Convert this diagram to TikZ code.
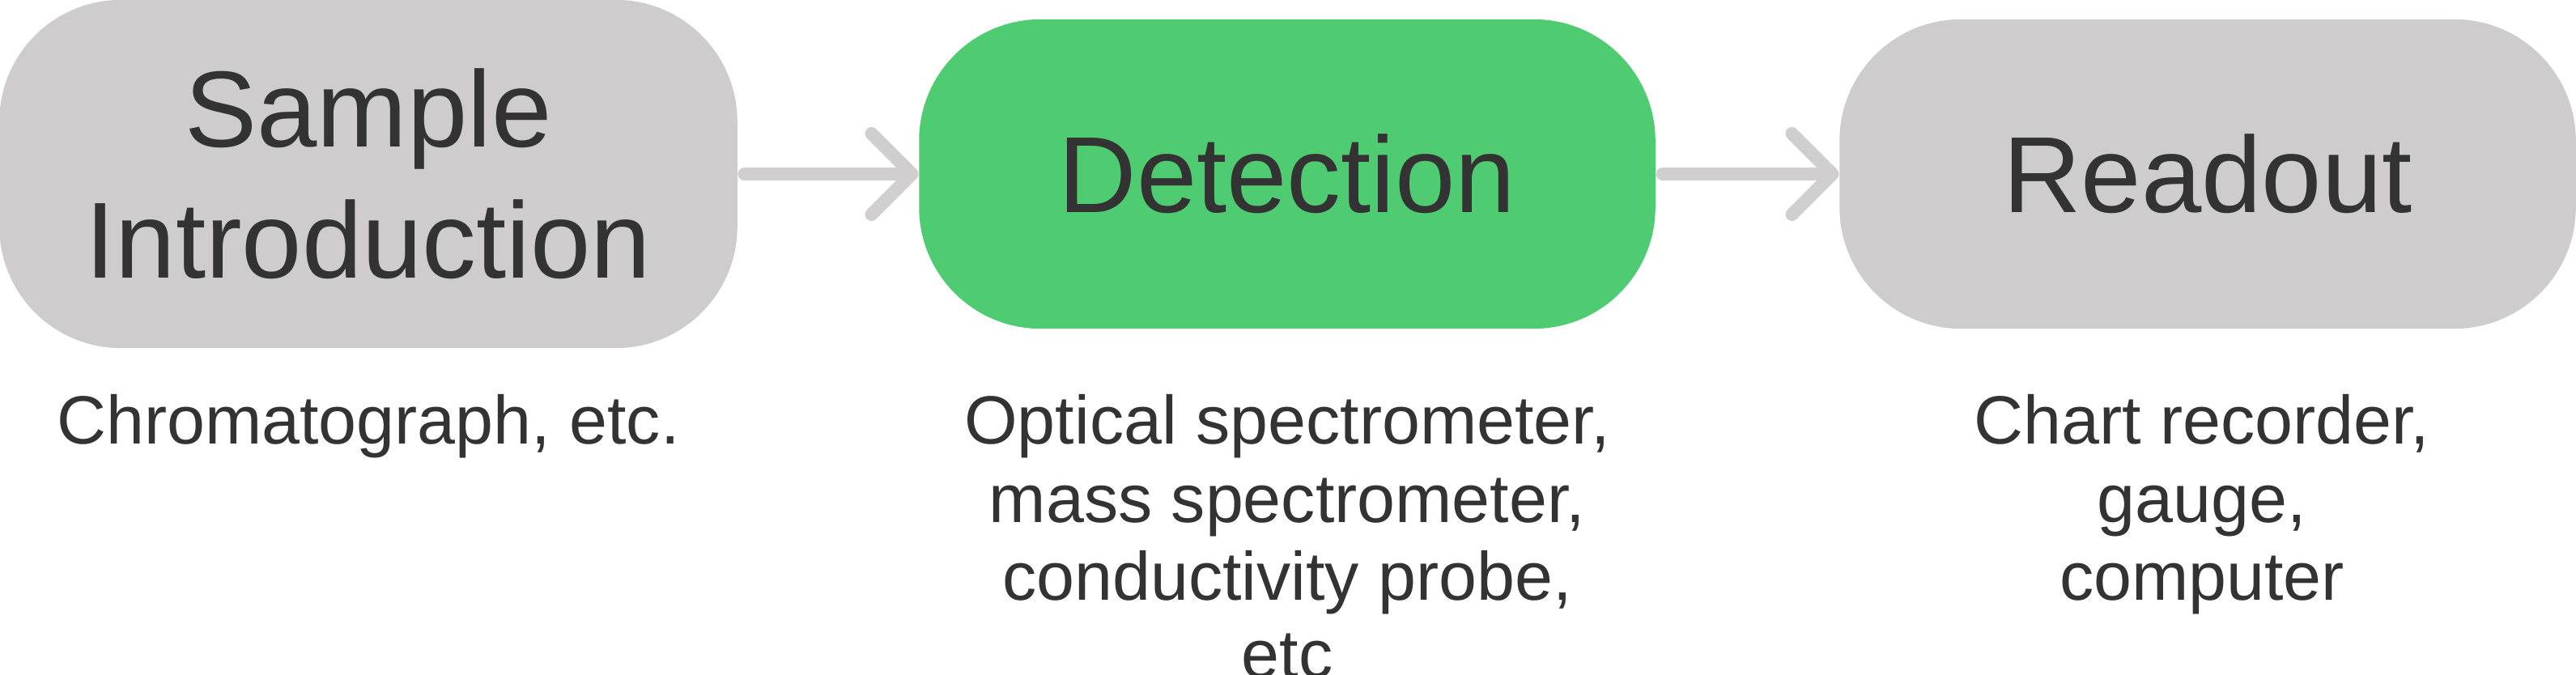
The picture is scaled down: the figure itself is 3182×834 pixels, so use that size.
\documentclass[tikz,border=0pt]{standalone}
\usepackage{fontspec}
\setmainfont{Liberation Sans}
\usepackage{tikz}
\usetikzlibrary{arrows.meta, positioning}
\usepackage{xcolor}
\definecolor{boxgray}{HTML}{CECCCD}
\definecolor{boxgreen}{HTML}{4FCB71}
\definecolor{txtdark}{HTML}{333333}
\definecolor{arrgray}{HTML}{D0CECF}

\tikzset{
  stage/.style={rectangle, rounded corners=1.5cm, inner sep=0pt, text=txtdark,
    align=center, font=\fontsize{38}{46}\selectfont},
  note/.style={anchor=north, inner sep=0pt, text=txtdark, align=center,
    font=\fontsize{24}{27.4}\selectfont},
  flow/.style={arrgray, line width=0.16cm, line cap=round, line join=round,
    shorten <=0.08cm, -{Straight Barb[length=5mm, width=10mm, line cap=round, line join=round]}}
}

\begin{document}
\begin{tikzpicture}[x=0.01cm, y=-0.01cm]
  \useasboundingbox (0,0) rectangle (3182,834);
  % the three stages
  \node[stage, fill=boxgray, minimum width=9.11cm, minimum height=4.30cm] (intro) at (455,215) {Sample\\Introduction};
  \node[stage, fill=boxgreen, minimum width=9.09cm, minimum height=3.82cm] (detect) at (1590,215) {Detection};
  \node[stage, fill=boxgray, minimum width=9.09cm, minimum height=3.82cm] (readout) at (2727,215) {Readout};
  % examples below each stage
  \node[note] (introex) at (455,487) {Chromatograph, etc.};
  \node[note] (detectex) at (1590,487) {Optical spectrometer,\\mass spectrometer,\\conductivity probe,\\etc};
  \node[note] (readoutex) at (2720,487) {Chart recorder,\\gauge,\\computer};
  % connectors
  \draw[flow] (intro.east |- detect.west) -- (detect.west);
  \draw[flow] (detect.east) -- (readout.west);
\end{tikzpicture}
\end{document}
